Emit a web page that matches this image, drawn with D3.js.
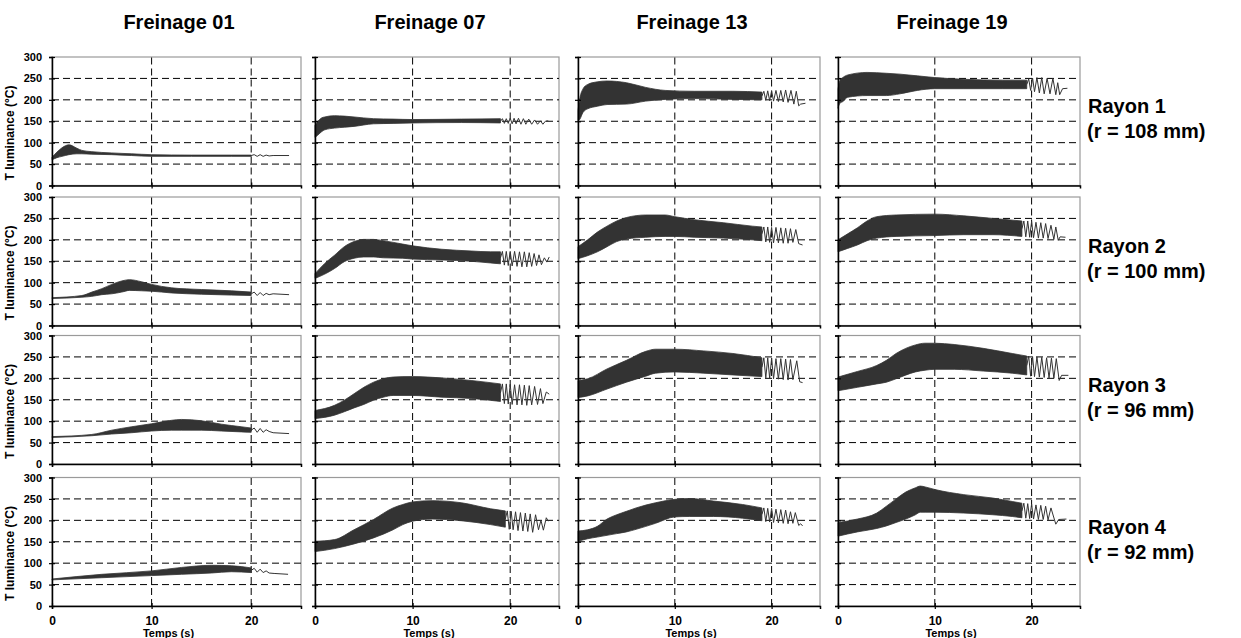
<!DOCTYPE html>
<html><head><meta charset="utf-8">
<script src="https://cdn.jsdelivr.net/npm/d3@7"></script>
<style>
html,body{margin:0;padding:0;background:#fff;}
svg{display:block;font-family:"Liberation Sans",Arial,sans-serif;}
</style></head>
<body>
<svg id="chart" width="1241" height="638"></svg>
<script>
// ---------- labels ----------
const freinages = ["Freinage 01", "Freinage 07", "Freinage 13", "Freinage 19"];
const rayons = ["Rayon 1", "Rayon 2", "Rayon 3", "Rayon 4"];
const radii = ["(r = 108 mm)", "(r = 100 mm)", "(r = 96 mm)", "(r = 92 mm)"];
const yTicks = [0, 50, 100, 150, 200, 250, 300];
const xTicks = [0, 10, 20];
const yGrid = [50, 100, 150, 200, 250];
const xGrid = [10, 20];
const yTitle = "T luminance (°C)";
const xTitle = "Temps (s)";

// ---------- data: oscillation envelope [t, lower, upper] and tail [t, T] ----------
const band_R1_F01 = [[0,60,66],[0.5,65,78],[1,68,88],[1.7,72,95],[2.5,74,87],[3,74,82],[4,73,79],[6,72,76],[8,70,74],[10,68,72],[14,68,71],[18,68,71],[20,68,71]];
const tail_R1_F01 = [[20,70],[20.3,72],[20.6,68],[20.9,72],[21.2,68],[21.5,71],[21.8,69],[22.2,70],[23.8,70]];
const band_R1_F07 = [[0,112,140],[0.3,118,150],[0.7,126,158],[1,130,160],[2,134,163],[3,136,162],[4,138,160],[6,144,156],[8,145,155],[10,146,154],[15,147,155],[19,146,156]];
const tail_R1_F07 = [[19,150],[19.2,156],[19.4,145],[19.6,156],[19.8,145],[20,157],[20.2,144],[20.4,157],[20.6,144],[20.85,157],[21.1,143],[21.35,156],[21.6,143],[21.9,155],[22.2,143],[22.5,153],[22.8,143],[23.1,151],[23.35,143],[23.6,150],[23.9,151]];
const band_R1_F13 = [[0,150,175],[0.2,155,205],[0.5,170,225],[1,179,236],[2,185,242],[3,189,244],[5,190,240],[7,197,229],[9,201,222],[12,203,220],[16,201,220],[19,200,218]];
const tail_R1_F13 = [[19,209],[19.2,220],[19.4,199],[19.6,221],[19.8,198],[20,221],[20.2,197],[20.45,222],[20.7,196],[20.95,222],[21.2,195],[21.45,223],[21.7,194],[22,222],[22.3,190],[22.55,220],[22.8,186],[23,190],[23.5,192]];
const band_R1_F19 = [[0,180,225],[0.2,192,245],[0.5,196,252],[1,206,258],[3,210,264],[5,210,262],[6.4,214,260],[8.2,222,256],[10,226,252],[13,226,248],[17,226,246],[19.5,226,246]];
const tail_R1_F19 = [[19.5,236],[19.7,249],[19.9,222],[20.1,251],[20.3,219],[20.55,252],[20.8,216],[21.05,252],[21.3,214],[21.6,250],[21.9,214],[22.2,250],[22.5,212],[22.7,240],[22.9,212],[23.2,226],[23.7,227]];

const band_R2_F01 = [[0,63,65],[3,66,70],[4,68,78],[5,72,86],[6,74,96],[7,78,104],[7.8,82,107],[9,81,102],[10,80,96],[12,76,88],[15,73,84],[18,71,81],[20,70,78]];
const tail_R2_F01 = [[20,74],[20.3,78],[20.6,70],[20.9,77],[21.2,70],[21.5,75],[21.8,72],[22.2,74],[23.8,72]];
const band_R2_F07 = [[0,110,121],[1,120,145],[2,133,164],[3,149,184],[4,157,196],[5,160,201],[6,160,201],[7,158,198],[9,157,190],[10,155,186],[13,153,178],[16,150,174],[18,146,172],[19,144,172]];
const tail_R2_F07 = [[19,158],[19.2,173],[19.4,141],[19.6,173],[19.8,140],[20,173],[20.2,139],[20.45,173],[20.7,138],[20.95,172],[21.2,137],[21.45,172],[21.7,137],[21.95,170],[22.2,138],[22.45,168],[22.7,140],[22.95,165],[23.2,142],[23.5,158],[23.75,148],[24,160]];
const band_R2_F13 = [[0,156,184],[1,163,200],[2,172,218],[3,184,232],[4,196,244],[5,202,252],[7,206,258],[9,208,258],[10,208,254],[12,206,247],[15,204,240],[18,200,232],[19,198,230]];
const tail_R2_F13 = [[19,214],[19.2,230],[19.4,195],[19.6,230],[19.8,194],[20,229],[20.2,193],[20.45,229],[20.7,193],[20.95,228],[21.2,192],[21.45,227],[21.7,192],[21.95,226],[22.2,194],[22.5,224],[22.8,191],[23.2,188]];
const band_R2_F19 = [[0,172,200],[1,180,214],[2,188,228],[3,198,244],[4,204,254],[6,208,258],[10,210,260],[13,212,256],[16,212,250],[19,208,244]];
const tail_R2_F19 = [[19,226],[19.2,244],[19.4,207],[19.6,244],[19.8,206],[20,243],[20.2,205],[20.45,241],[20.7,204],[20.95,240],[21.2,204],[21.45,238],[21.7,203],[22,234],[22.3,201],[22.5,230],[22.75,199],[22.95,207],[23.5,206]];

const band_R3_F01 = [[0,62,64],[4,66,69],[6,70,79],[8,73,87],[10,77,94],[12,79,102],[13,79,104],[15,79,101],[17,77,93],[19,75,87],[20,74,84]];
const tail_R3_F01 = [[20,79],[20.3,84],[20.6,74],[20.9,83],[21.2,74],[21.5,80],[21.8,76],[22.2,73],[23.8,71]];
const band_R3_F07 = [[0,106,125],[2,114,137],[3,122,149],[4,131,164],[5,139,179],[6,149,191],[7,156,199],[8,160,203],[10,160,204],[13,156,201],[16,153,195],[19,146,187]];
const tail_R3_F07 = [[19,166],[19.2,187],[19.4,141],[19.6,187],[19.8,140],[20,186],[20.2,139],[20.45,185],[20.7,138],[20.95,185],[21.2,138],[21.45,184],[21.7,137],[21.95,183],[22.2,138],[22.5,181],[22.8,139],[23.1,176],[23.35,141],[23.7,168],[24,163]];
const band_R3_F13 = [[0,155,195],[1,159,199],[3,175,222],[5,191,242],[7,205,263],[8,212,268],[10,215,268],[13,212,264],[16,208,258],[19,204,248]];
const tail_R3_F13 = [[19,226],[19.2,248],[19.4,201],[19.6,248],[19.8,200],[20,247],[20.2,199],[20.45,246],[20.7,198],[20.95,246],[21.2,197],[21.45,245],[21.7,196],[21.95,244],[22.2,197],[22.6,241],[22.9,192],[23.2,190]];
const band_R3_F19 = [[0,171,203],[2,179,216],[4,187,230],[5,191,242],[6,199,258],[8,215,278],[9,219,282],[10,221,282],[12,221,279],[15,217,270],[18,212,258],[19.5,208,252]];
const tail_R3_F19 = [[19.5,230],[19.7,252],[19.9,205],[20.1,251],[20.3,204],[20.55,250],[20.8,203],[21.05,249],[21.3,202],[21.55,248],[21.8,201],[22.05,247],[22.3,200],[22.55,246],[22.85,195],[23.1,207],[23.8,207]];

const band_R4_F01 = [[0,61,63],[5,66,74],[10,71,82],[13,74,90],[16,77,95],[18,80,94],[20,78,89]];
const tail_R4_F01 = [[20,83],[20.3,88],[20.6,79],[20.9,86],[21.2,78],[21.5,82],[21.8,77],[22.3,76],[23.7,74]];
const band_R4_F07 = [[0,127,151],[2,134,155],[4,145,178],[6,159,202],[8,178,229],[9,190,237],[10,198,243],[12,203,246],[15,199,241],[18,190,227],[19.5,184,222]];
const tail_R4_F07 = [[19.5,203],[19.7,222],[19.9,179],[20.1,221],[20.3,178],[20.55,220],[20.8,176],[21.05,218],[21.3,175],[21.55,217],[21.8,174],[22.05,215],[22.3,172],[22.6,213],[22.9,178],[23.15,200],[23.4,177],[23.7,206],[23.9,198]];
const band_R4_F13 = [[0,151,175],[1,157,178],[2,161,186],[3,165,203],[4,169,213],[5,173,221],[6,179,229],[8,193,241],[10,208,249],[11.5,209,251],[14,209,245],[17,205,237],[19,199,229]];
const tail_R4_F13 = [[19,214],[19.2,229],[19.4,197],[19.6,228],[19.8,196],[20,228],[20.2,195],[20.45,226],[20.7,194],[20.95,225],[21.2,193],[21.45,224],[21.7,192],[21.95,220],[22.2,193],[22.45,218],[22.8,188],[23,192],[23.2,187]];
const band_R4_F19 = [[0,163,195],[2,173,203],[4,181,217],[5,187,233],[6,195,250],[7,203,266],[8,213,276],[8.5,219,280],[9,219,278],[10,219,272],[13,217,260],[16,213,252],[18,209,244],[19,206,240]];
const tail_R4_F19 = [[19,222],[19.2,240],[19.4,205],[19.6,239],[19.8,204],[20,238],[20.2,203],[20.45,236],[20.7,202],[20.95,235],[21.2,202],[21.45,233],[21.7,201],[22,229],[22.5,191],[22.8,202],[23.6,203]];

const bands = [
  [band_R1_F01, band_R1_F07, band_R1_F13, band_R1_F19],
  [band_R2_F01, band_R2_F07, band_R2_F13, band_R2_F19],
  [band_R3_F01, band_R3_F07, band_R3_F13, band_R3_F19],
  [band_R4_F01, band_R4_F07, band_R4_F13, band_R4_F19]
];
const tails = [
  [tail_R1_F01, tail_R1_F07, tail_R1_F13, tail_R1_F19],
  [tail_R2_F01, tail_R2_F07, tail_R2_F13, tail_R2_F19],
  [tail_R3_F01, tail_R3_F07, tail_R3_F13, tail_R3_F19],
  [tail_R4_F01, tail_R4_F07, tail_R4_F13, tail_R4_F19]
];

// ---------- layout ----------
const colX = [52, 315, 578, 838];
const colW = [249, 244, 242, 242];
const rowY = [57, 197, 335.5, 477.5];
const rowH = 128.5;
const headerX = [179, 430, 692, 952];
const INK = "#333333";
const FONT = "'Liberation Sans', Arial, sans-serif";

const svg = d3.select("#chart");

// headers
svg.selectAll("text.header").data(freinages).join("text")
  .attr("class", "header")
  .attr("x", (d, i) => headerX[i]).attr("y", 29)
  .attr("text-anchor", "middle")
  .style("font-size", "20px").style("font-weight", "bold").attr("fill", "#000")
  .text(d => d);

// row labels
rayons.forEach((r, i) => {
  const mid = rowY[i] + rowH / 2;
  svg.append("text").attr("x", 1088).attr("y", mid - 8)
    .style("font-size", "20px").style("font-weight", "bold").text(r);
  svg.append("text").attr("x", 1087).attr("y", mid + 17)
    .style("font-size", "20px").style("font-weight", "bold").text(radii[i]);
});

for (let r = 0; r < 4; r++) {
  for (let c = 0; c < 4; c++) {
    const x = d3.scaleLinear().domain([0, 25]).range([colX[c], colX[c] + colW[c]]);
    const y = d3.scaleLinear().domain([0, 300]).range([rowY[r] + rowH, rowY[r]]);
    const g = svg.append("g");

    // frame (gray)
    g.append("rect")
      .attr("x", x(0)).attr("y", y(300))
      .attr("width", x(25) - x(0)).attr("height", y(0) - y(300))
      .attr("fill", "#fff").attr("stroke", "#9a9a9a").attr("stroke-width", 1.2);

    // gridlines
    g.selectAll("line.hg").data(yGrid).join("line")
      .attr("x1", x(0)).attr("x2", x(25))
      .attr("y1", d => y(d)).attr("y2", d => y(d))
      .attr("stroke", "#000").attr("stroke-width", 1).attr("stroke-dasharray", "7,4");
    g.selectAll("line.vg").data(xGrid).join("line")
      .attr("y1", y(0)).attr("y2", y(300))
      .attr("x1", d => x(d)).attr("x2", d => x(d))
      .attr("stroke", "#000").attr("stroke-width", 1).attr("stroke-dasharray", "7,4");

    // signal band
    const area = d3.area()
      .x(d => x(d[0])).y0(d => y(d[1])).y1(d => y(d[2]))
      .curve(d3.curveMonotoneX);
    g.append("path").datum(bands[r][c]).attr("d", area)
      .attr("fill", INK).attr("stroke", INK).attr("stroke-width", 0.8);

    // tail oscillation
    const line = d3.line().x(d => x(d[0])).y(d => y(d[1]));
    g.append("path").datum(tails[r][c]).attr("d", line)
      .attr("fill", "none").attr("stroke", INK).attr("stroke-width", 1);

    // axes
    const ya = d3.axisLeft(y).tickValues(yTicks).tickSize(3).tickPadding(7)
      .tickFormat(c === 0 ? d3.format("d") : () => "");
    const yg = g.append("g").attr("transform", `translate(${x(0)},0)`).call(ya);
    yg.select(".domain").attr("stroke", "#000").attr("stroke-width", 1.5);
    yg.selectAll(".tick line").attr("x1", 3).attr("stroke", "#000").attr("stroke-width", 1.2);
    yg.selectAll(".tick text").style("font-size", "11px").style("font-weight", "bold")
      .style("font-family", FONT).attr("fill", "#000");

    const xa = d3.axisBottom(x).tickValues(xTicks).tickSize(3).tickPadding(7)
      .tickFormat(r === 3 ? d3.format("d") : () => "");
    const xg = g.append("g").attr("transform", `translate(0,${y(0)})`).call(xa);
    xg.select(".domain").attr("stroke", "#000").attr("stroke-width", 1.5);
    xg.selectAll(".tick line").attr("y1", -3).attr("stroke", "#000").attr("stroke-width", 1.2);
    xg.selectAll(".tick text").style("font-size", "12px").style("font-weight", "bold")
      .style("font-family", FONT).attr("fill", "#000");

    if (c === 0) {
      g.append("text")
        .attr("transform", `translate(14,${rowY[r] + 76}) rotate(-90)`)
        .attr("text-anchor", "middle")
        .style("font-size", "12px").style("font-weight", "bold").text(yTitle);
    }
    if (r === 3) {
      g.append("text")
        .attr("x", (x(0) + x(25)) / 2 - 8).attr("y", 637)
        .attr("text-anchor", "middle")
        .style("font-size", "11px").style("font-weight", "bold").text(xTitle);
    }
  }
}
</script>
</body></html>
